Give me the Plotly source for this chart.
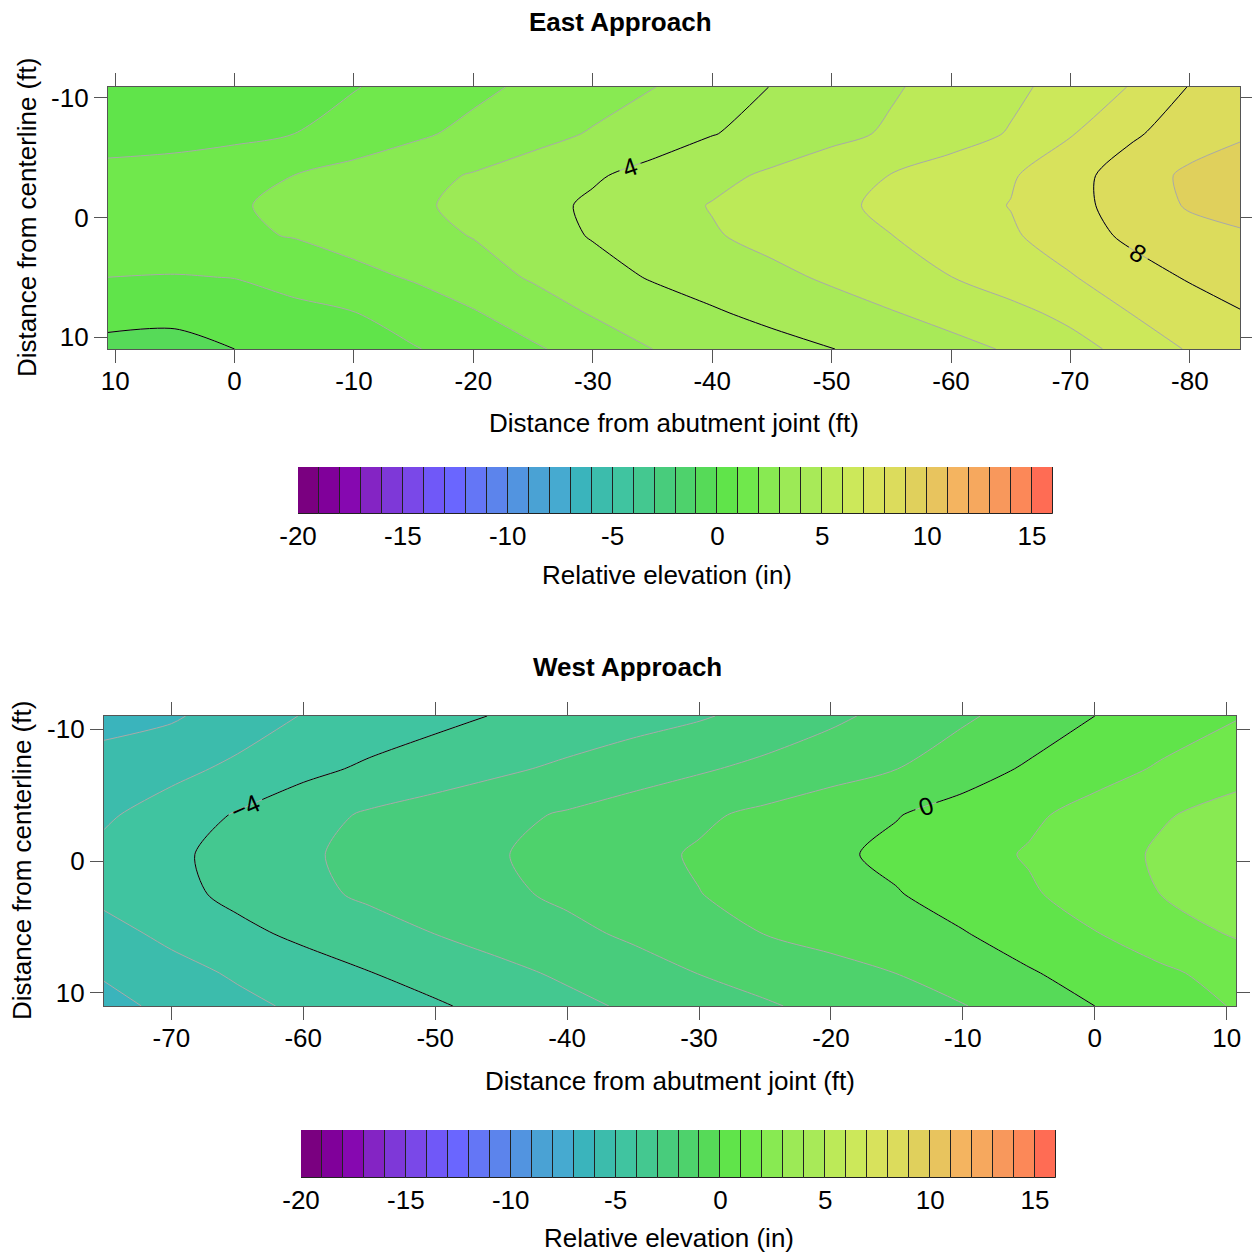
import plotly.graph_objects as go

W, H = 1252, 1255

# ---------------- colour bins (in) ----------------
level_bins = list(range(-20, 16))          # lower edge of each 1-in bin
level_colors = [
    "#7a0080", "#80009a", "#8608b0", "#8424c4", "#7e38d8", "#7a48e8",
    "#7058f8", "#6a66ff", "#6476f6", "#5c84ec", "#5294e0", "#4aa2d4",
    "#46aad0", "#3ab4bc", "#3cbcac", "#40c4a0", "#44c890", "#48cc7c",
    "#4ed26c", "#56da58", "#60e44a", "#70e84c", "#88ea52", "#9cea56",
    "#a8ea58", "#bcea58", "#cce85a", "#d8e25c", "#dcdc5c", "#e0d05c",
    "#e8c45e", "#f4b460", "#f6a85e", "#f8985c", "#fc8858", "#ff6c54",
]
cb_ticks = [-20, -15, -10, -5, 0, 5, 10, 15]

# ---------------- East approach ----------------
east_x = [10.6, 5, 0, -5, -10, -15, -20, -25, -30, -35, -40, -45, -50,
          -55, -60, -65, -70, -75, -80, -84.2]
east_y = [-10.9, -7, -3.5, -1, 1.5, 5, 8, 11.0]
east_z = [
    [0.35, 0.45, 0.55, 0.70, 0.95, 1.36, 1.78, 2.19, 2.58, 2.97, 3.49, 4.03, 4.46, 4.90, 5.34, 5.79, 6.35, 7.04, 8.05, 8.50],
    [0.65, 0.70, 0.80, 1.00, 1.41, 1.83, 2.25, 2.66, 3.08, 3.52, 3.96, 4.34, 4.73, 5.13, 5.58, 6.07, 6.93, 7.84, 8.50, 8.90],
    [1.25, 1.35, 1.55, 2.01, 2.36, 2.71, 3.07, 3.48, 3.89, 4.31, 4.73, 5.16, 5.59, 6.03, 6.46, 6.90, 7.65, 8.48, 9.20, 9.40],
    [1.50, 1.60, 1.90, 2.23, 2.54, 2.85, 3.24, 3.69, 4.15, 4.60, 5.05, 5.42, 5.80, 6.20, 6.61, 7.03, 7.69, 8.42, 9.10, 9.30],
    [1.55, 1.65, 1.85, 2.05, 2.38, 2.70, 3.04, 3.56, 4.07, 4.50, 4.92, 5.29, 5.64, 5.99, 6.43, 6.88, 7.50, 8.20, 8.65, 8.90],
    [1.00, 0.95, 1.02, 1.37, 1.72, 2.09, 2.59, 3.10, 3.61, 4.08, 4.43, 4.77, 5.14, 5.57, 5.99, 6.46, 6.93, 7.54, 8.10, 8.40],
    [0.35, 0.35, 0.50, 0.72, 0.97, 1.45, 1.92, 2.51, 3.07, 3.48, 3.89, 4.26, 4.60, 4.94, 5.33, 5.73, 6.24, 7.00, 7.50, 7.95],
    [-0.30, -0.45, 0.00, 0.31, 0.62, 0.94, 1.39, 1.87, 2.43, 3.00, 3.33, 3.65, 3.98, 4.34, 4.70, 5.10, 5.65, 6.30, 7.10, 7.50],
]
east_xticks = [10, 0, -10, -20, -30, -40, -50, -60, -70, -80]
east_labelled = [4, 8]
east_plain = [0]

# ---------------- West approach ----------------
west_x = [-75.1, -70, -65, -60, -55, -50, -45, -40, -35, -30, -25, -20,
          -15, -10, -5, 0, 5, 10.7]
west_y = [-11.0, -7, -3.5, -0.5, 2.5, 5.5, 8.5, 11.0]
west_z = [
    [-6.30, -6.12, -5.57, -4.95, -4.61, -4.26, -3.93, -3.66, -3.38, -3.10, -2.69, -2.20, -1.69, -1.15, -0.58, 0.00, 0.50, 0.93],
    [-5.65, -5.30, -4.78, -4.27, -3.84, -3.50, -3.16, -2.82, -2.47, -2.12, -1.75, -1.38, -1.01, -0.44, 0.12, 0.63, 1.10, 1.70],
    [-5.15, -4.52, -3.92, -3.36, -2.88, -2.56, -2.24, -1.90, -1.53, -1.16, -0.79, -0.42, -0.04, 0.39, 0.83, 1.35, 1.92, 2.30],
    [-4.75, -4.20, -3.64, -3.13, -2.74, -2.40, -2.05, -1.67, -1.28, -0.90, -0.54, -0.17, 0.22, 0.64, 1.08, 1.61, 2.12, 2.55],
    [-4.75, -4.30, -3.75, -3.25, -2.84, -2.51, -2.18, -1.82, -1.42, -1.02, -0.69, -0.37, -0.05, 0.41, 0.88, 1.43, 2.01, 2.45],
    [-5.35, -4.76, -4.25, -3.79, -3.39, -2.99, -2.61, -2.24, -1.84, -1.41, -0.98, -0.68, -0.36, -0.05, 0.44, 0.96, 1.52, 2.10],
    [-5.90, -5.35, -4.87, -4.45, -4.03, -3.64, -3.24, -2.84, -2.41, -1.98, -1.65, -1.32, -0.99, -0.54, -0.08, 0.37, 0.83, 1.35],
    [-6.30, -5.76, -5.25, -4.82, -4.46, -4.11, -3.70, -3.26, -2.85, -2.47, -2.10, -1.74, -1.39, -1.04, -0.53, 0.00, 0.51, 1.07],
]
west_xticks = [-70, -60, -50, -40, -30, -20, -10, 0, 10]
west_labelled = [-4, 0]
west_plain = []
y_ticks = [-10, 0, 10]

# ---------------- styling ----------------
FONT = "Liberation Sans, Arial, sans-serif"
FRAME = "#555555"
GRAY_LINE = "#a9a9a9"
TICK_SIZE = 26
TITLE_SIZE = 26
LINE_STEP = 4


def px_x(p):
    return p / W


def px_y(p):
    return 1 - p / H


n = len(level_colors)
colorscale = [[i / (n - 1), c] for i, c in enumerate(level_colors)]

fig = go.Figure()


def black_lines(xs, ys, zs, xa, ya, levels, labels):
    if not levels:
        return
    fig.add_trace(go.Contour(
        x=xs, y=ys, z=zs, xaxis=xa, yaxis=ya,
        autocontour=False,
        contours=dict(start=min(levels), end=max(levels), size=LINE_STEP,
                      coloring="none", showlabels=labels,
                      labelfont=dict(family=FONT, size=25, color="black")),
        line=dict(color="black", width=1, smoothing=0.8),
        showscale=False, hoverinfo="skip",
    ))


def add_panel(xs, ys, zs, xa, ya, labelled, plain):
    fig.add_trace(go.Contour(
        x=xs, y=ys, z=zs, xaxis=xa, yaxis=ya,
        autocontour=False,
        contours=dict(start=level_bins[1], end=level_bins[-1], size=1,
                      coloring="fill", showlines=True),
        colorscale=colorscale, showscale=False,
        line=dict(color=GRAY_LINE, width=1, smoothing=0.8),
        hoverinfo="skip",
    ))
    black_lines(xs, ys, zs, xa, ya, plain, False)
    black_lines(xs, ys, zs, xa, ya, labelled, True)


add_panel(east_x, east_y, east_z, "x", "y", east_labelled, east_plain)
add_panel(west_x, west_y, west_z, "x2", "y2", west_labelled, west_plain)


def add_colorbar(xa, ya):
    fig.add_trace(go.Bar(
        x=[b + 0.5 for b in level_bins], y=[1] * len(level_bins),
        width=1, xaxis=xa, yaxis=ya,
        marker=dict(color=level_colors, line=dict(color="#222222", width=1)),
        hoverinfo="skip", showlegend=False,
    ))


add_colorbar("x3", "y3")
add_colorbar("x4", "y4")

axis_common = dict(
    showgrid=False, zeroline=False, showline=True, linecolor=FRAME,
    linewidth=1.2, mirror="ticks", ticks="outside", ticklen=13,
    tickcolor=FRAME, tickwidth=1.2, automargin=False,
    tickfont=dict(family=FONT, size=TICK_SIZE, color="black"),
)
x_common = dict(axis_common, ticklabelstandoff=-4)

cb_axis = dict(
    showgrid=False, zeroline=False, showline=False, ticks="",
    ticklabelstandoff=4, automargin=False,
    tickfont=dict(family=FONT, size=TICK_SIZE, color="black"),
    range=[level_bins[0], level_bins[-1] + 1],
    tickvals=cb_ticks, ticktext=[str(v) for v in cb_ticks],
)
cb_yaxis = dict(range=[0, 1], showticklabels=False, showgrid=False,
                zeroline=False, showline=False, ticks="", automargin=False)

fig.update_layout(
    width=W, height=H,
    margin=dict(l=0, r=0, t=0, b=0),
    paper_bgcolor="white", plot_bgcolor="white",
    showlegend=False, bargap=0,
    font=dict(family=FONT, color="black"),
    xaxis=dict(x_common, domain=[px_x(108), px_x(1240)], anchor="y",
               range=[east_x[0], east_x[-1]],
               tickvals=east_xticks, ticktext=[str(v) for v in east_xticks]),
    yaxis=dict(axis_common, domain=[px_y(349), px_y(87)], anchor="x",
               range=[east_y[-1], east_y[0]],
               tickvals=y_ticks, ticktext=[str(v) for v in y_ticks]),
    xaxis2=dict(x_common, domain=[px_x(104), px_x(1236)], anchor="y2",
                range=[west_x[0], west_x[-1]],
                tickvals=west_xticks, ticktext=[str(v) for v in west_xticks]),
    yaxis2=dict(axis_common, domain=[px_y(1006), px_y(716)], anchor="x2",
                range=[west_y[-1], west_y[0]],
                tickvals=y_ticks, ticktext=[str(v) for v in y_ticks]),
    xaxis3=dict(cb_axis, domain=[px_x(298), px_x(1053)], anchor="y3"),
    yaxis3=dict(cb_yaxis, domain=[px_y(514), px_y(467)], anchor="x3"),
    xaxis4=dict(cb_axis, domain=[px_x(301), px_x(1056)], anchor="y4"),
    yaxis4=dict(cb_yaxis, domain=[px_y(1178), px_y(1130)], anchor="x4"),
)


def note(text, x, y, size=TITLE_SIZE, bold=False, angle=0):
    fig.add_annotation(
        text=f"<b>{text}</b>" if bold else text,
        x=px_x(x), y=px_y(y), xref="paper", yref="paper",
        xanchor="center", yanchor="middle", showarrow=False,
        textangle=angle, font=dict(family=FONT, size=size, color="black"),
    )


note("East Approach", 620, 22, bold=True)
note("Distance from abutment joint (ft)", 674, 423)
note("Distance from centerline (ft)", 27, 218, angle=-90)
note("Relative elevation (in)", 667, 575)

note("West Approach", 627, 667, bold=True)
note("Distance from abutment joint (ft)", 670, 1081)
note("Distance from centerline (ft)", 22, 861, angle=-90)
note("Relative elevation (in)", 669, 1238)

fig.write_html("out.html")
